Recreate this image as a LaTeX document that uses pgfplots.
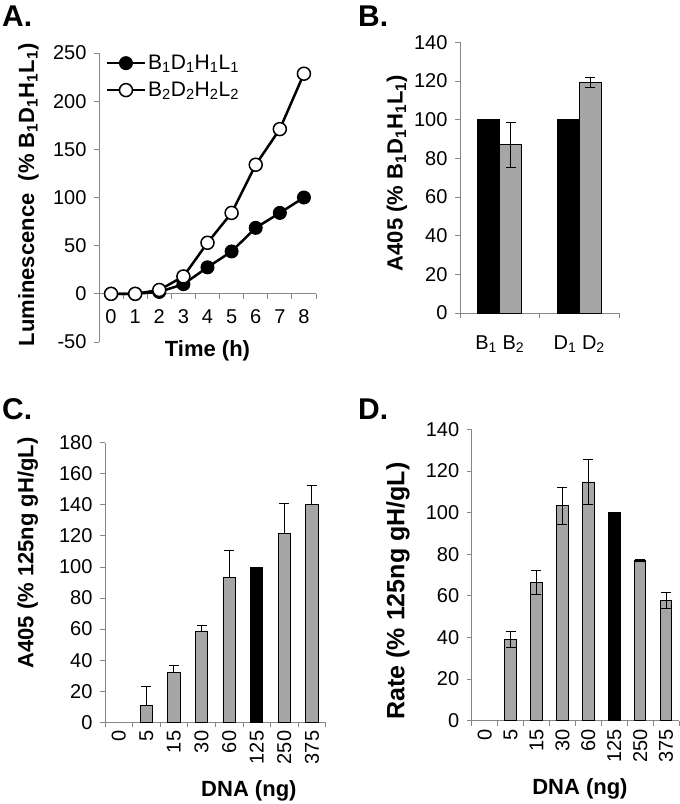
\documentclass[border=0pt]{standalone}
\usepackage{pgfplots}
\pgfplotsset{compat=1.18}
\usepackage{fontspec}
\setmainfont{Liberation Sans}
\definecolor{axgray}{RGB}{134,134,134}
\definecolor{bargray}{RGB}{166,166,166}
\newcommand{\tickfont}{\fontsize{20}{24}\selectfont}
\newcommand{\labfont}{\bfseries\fontsize{22}{26}\selectfont}
\pgfplotsset{
  myaxis/.style={
    scale only axis, anchor=south west, clip=false,
    enlargelimits=false,
    axis line style={-, draw=axgray, line width=0.8pt},
    tick style={draw=axgray, line width=0.8pt},
    tick align=outside,
    major tick length=5pt, minor tick length=5pt,
    every major x tick/.append style={draw=none},
    tick label style={font=\tickfont},
    /pgf/number format/assume math mode=true,
    label style={font=\labfont},
    hide obscured x ticks=false, hide obscured y ticks=false,
    yticklabel style={xshift=-4pt},
  },
  errstyle/.style={error bars/.cd, y explicit, y dir=#1,
    error bar style={line width=1pt, black},
    error mark options={rotate=90, mark size=5pt, line width=1pt, black}},
}
\begin{document}
\begin{tikzpicture}
\useasboundingbox (0,0) rectangle (680pt,804pt);
% ---------------- Panel A
\begin{axis}[myaxis, at={(99pt,462pt)}, width=217pt, height=289pt,
  axis x line*=middle, axis y line*=left,
  xmin=-0.5, xmax=8.5, ymin=-50, ymax=250,
  xtick={0,...,8}, minor xtick={-0.5,0.5,...,8.5},
  ytick={-50,0,...,250},
  xticklabel style={yshift=-7pt},
  xlabel={Time (h)}, xlabel style={at={(axis description cs:0.5,0)}, anchor=north, yshift=5pt},
  ylabel={Luminescence\ \ (\% B\textsubscript{1}D\textsubscript{1}H\textsubscript{1}L\textsubscript{1})},
  ylabel style={at={(axis description cs:-0.325,0.509)}, anchor=center},
  legend style={at={(0.03,1.0)}, anchor=north west, draw=none, fill=none,
    font=\fontsize{21}{25}\selectfont, row sep=7pt, inner sep=0pt},
  legend cell align=left,
  legend image code/.code={\draw[mark repeat=2,mark phase=2,#1] plot coordinates {(0pt,0pt) (19pt,0pt) (38pt,0pt)};},
]
\addplot[black, line width=2.5pt, mark=*, mark size=6.5pt, mark options={fill=black, line width=1pt}]
  coordinates {(0,0) (1,0) (2,2) (3,10) (4,27.5) (5,44) (6,68.5) (7,84) (8,100)};
\addlegendentry{B\textsubscript{1}D\textsubscript{1}H\textsubscript{1}L\textsubscript{1}}
\addplot[black, line width=2.5pt, mark=*, mark size=6.5pt, mark options={fill=white, line width=1.5pt}]
  coordinates {(0,0) (1,0) (2,4) (3,18) (4,53) (5,84) (6,134) (7,171) (8,228.5)};
\addlegendentry{B\textsubscript{2}D\textsubscript{2}H\textsubscript{2}L\textsubscript{2}}
\end{axis}
% ---------------- Panel B
\begin{axis}[myaxis, at={(460pt,491pt)}, width=159pt, height=270.7pt,
  axis x line*=bottom, axis y line*=left,
  xmin=-0.5, xmax=1.5, ymin=0, ymax=140, ytick={0,20,...,140},
  xtick={0,1}, xticklabels={B\textsubscript{1} B\textsubscript{2}, D\textsubscript{1} D\textsubscript{2}},
  minor xtick={-0.5,0.5,1.5},
  xticklabel style={yshift=-14pt},
  ylabel={A405 (\% B\textsubscript{1}D\textsubscript{1}H\textsubscript{1}L\textsubscript{1})},
  ylabel style={at={(axis description cs:-0.396,0.517)}, anchor=center},
  bar width=22pt,
]
% black bars (B1, D1) left of each category centre, grey bars (B2, D2) right of it
\addplot[ybar, bar shift=0pt, fill=black, draw=black, line width=0.8pt] coordinates {(-0.1384,100) (0.8616,100)};
\addplot[ybar, bar shift=0pt, fill=bargray, draw=black, line width=0.8pt, errstyle=both]
  coordinates {(0.1384,87) +- (0,11.5) (1.1384,119.3) +- (0,2.5)};
\end{axis}
% ---------------- Panel C
\begin{axis}[myaxis, at={(105pt,81.7pt)}, width=220.7pt, height=279.6pt,
  axis x line*=bottom, axis y line*=left,
  xmin=-0.5, xmax=7.5, ymin=0, ymax=180, ytick={0,20,...,180},
  xtick={0,...,7}, xticklabels={0,5,15,30,60,125,250,375},
  minor xtick={-0.5,0.5,...,7.5},
  xticklabel style={rotate=90, anchor=east},
  xlabel={DNA (ng)}, xlabel style={at={(axis description cs:0.652,-0.265)}, anchor=base},
  ylabel={A405 (\% 125ng gH/gL)},
  ylabel style={at={(axis description cs:-0.35,0.605)}, anchor=center},
  bar width=12.3pt,
]
\addplot[ybar, bar shift=0pt, fill=bargray, draw=black, line width=0.8pt, errstyle=plus]
  coordinates {(1,10.7) +- (0,12.3) (2,32) +- (0,4.3) (3,58.8) +- (0,3.8) (4,93.3) +- (0,17.2) (6,121.4) +- (0,19.6) (7,140.3) +- (0,12)};
\addplot[ybar, bar shift=0pt, fill=black, draw=black, line width=0.8pt] coordinates {(5,100)};
\end{axis}
% ---------------- Panel D
\begin{axis}[myaxis, at={(471.7pt,83.3pt)}, width=207.3pt, height=291.4pt,
  axis x line*=bottom, axis y line*=left,
  xmin=-0.5, xmax=7.5, ymin=0, ymax=140, ytick={0,20,...,140},
  xtick={0,...,7}, xticklabels={0,5,15,30,60,125,250,375},
  minor xtick={-0.5,0.5,...,7.5},
  xticklabel style={rotate=90, anchor=east},
  xlabel={DNA (ng)}, xlabel style={at={(axis description cs:0.522,-0.253)}, anchor=base},
  ylabel={Rate (\% 125ng gH/gL)},
  ylabel style={at={(axis description cs:-0.3555,0.445)}, anchor=center, font=\bfseries\fontsize{25}{30}\selectfont},
  bar width=11.5pt,
]
\addplot[ybar, bar shift=0pt, fill=bargray, draw=black, line width=0.8pt, errstyle=both]
  coordinates {(1,39.1) +- (0,3.9) (2,66.6) +- (0,5.8) (3,103.2) +- (0,8.8) (4,114.7) +- (0,10.9) (6,77) +- (0,0.6) (7,57.8) +- (0,3.7)};
\addplot[ybar, bar shift=0pt, fill=black, draw=black, line width=0.8pt] coordinates {(5,100)};
\end{axis}
% panel letters
\node[anchor=base west, font=\bfseries\fontsize{30}{36}\selectfont, inner sep=0pt] at (2pt,777pt) {A.};
\node[anchor=base west, font=\bfseries\fontsize{30}{36}\selectfont, inner sep=0pt] at (358pt,777pt) {B.};
\node[anchor=base west, font=\bfseries\fontsize{30}{36}\selectfont, inner sep=0pt] at (2pt,384pt) {C.};
\node[anchor=base west, font=\bfseries\fontsize{30}{36}\selectfont, inner sep=0pt] at (358pt,384pt) {D.};
\end{tikzpicture}
\end{document}
